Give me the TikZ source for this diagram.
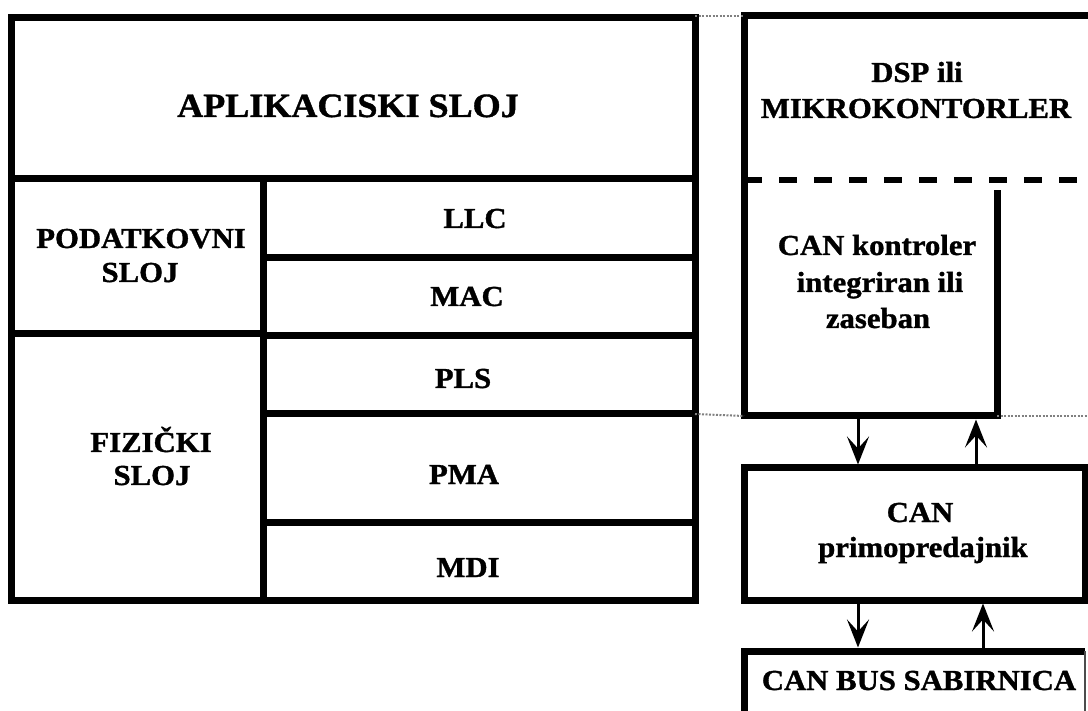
\documentclass[tikz,border=0pt]{standalone}
\usepackage{fontspec}
\setmainfont{Liberation Serif}[FakeStretch=1.06, BoldFeatures={FakeBold=1.2}]
\usetikzlibrary{arrows.meta}
\begin{document}
\begin{tikzpicture}[x=1pt,y=-1pt,
  box/.style={draw, line width=7pt, rectangle, inner sep=0pt, outer sep=0pt},
  area/.style={rectangle, inner sep=0pt, outer sep=0pt},
  thickline/.style={line width=7pt},
  lbl/.style={anchor=base, inner sep=0pt, font=\bfseries\fontsize{29}{34}\selectfont},
  biglbl/.style={anchor=base, inner sep=0pt, font=\bfseries\fontsize{34}{40}\selectfont},
  arr/.style={line width=3pt, shorten <=3.5pt, shorten >=3.5pt,
    -{Stealth[length=28pt,width=22pt,inset=12pt]}},
  dots/.style={black!50, line width=2pt, dash pattern=on 2pt off 1.5pt},
  dashline/.style={line width=6.5pt, dash pattern=on 18pt off 17pt}]
\useasboundingbox (0,0) rectangle (1088,711);
\clip (0,0) rectangle (1088,711);

% left stack
\node[box, minimum width=684pt, minimum height=161pt] (app) at (353,98.5) {};
\node[box, minimum width=252pt, minimum height=155pt] (pod) at (137,256.5) {};
\node[box, minimum width=252pt, minimum height=266pt] (fiz) at (137,467) {};
\node[box, minimum width=432pt, minimum height=79pt] (llc) at (479,218.5) {};
\node[box, minimum width=432pt, minimum height=78pt] (mac) at (479,297) {};
\node[box, minimum width=432pt, minimum height=78pt] (pls) at (479,375) {};
\node[box, minimum width=432pt, minimum height=108pt] (pma) at (479,468) {};
\node[box, minimum width=432pt, minimum height=78pt] (mdi) at (479,561) {};

% right column areas
\node[area, minimum width=356pt, minimum height=164pt] (dsp) at (922,98) {};
\node[area, minimum width=253pt, minimum height=236pt] (ctl) at (870.5,298) {};
\node[box, minimum width=341pt, minimum height=132pt] (trx) at (914.5,534) {};
\node[area, minimum width=341pt, minimum height=79pt] (bus) at (914.5,690.5) {};

\draw[thickline] (dsp.north east) -- (dsp.north west) -- (ctl.south west) -- (ctl.south east) -- (ctl.north east |- 0,190);
\draw[dashline] (dsp.south west) -- (dsp.south east);
\draw[thickline] (bus.south west) -- (bus.north west) -- (bus.north east);
\draw[line width=1.2pt, black!70] (bus.north east) -- (bus.south east);

% dotted guide lines
\draw[dots] (app.north east |- dsp.north) -- (dsp.north west);
\draw[dots] (pls.south east) -- (ctl.south west);
\draw[dots] (ctl.south east) -- (1088,416);

% arrows
\coordinate (d1) at (858,0);
\coordinate (u1) at (976,0);
\coordinate (d2) at (858,0);
\coordinate (u2) at (983,0);
\draw[arr] (ctl.south -| d1) -- (trx.north -| d1);
\draw[arr] (trx.north -| u1) -- (ctl.south -| u1);
\draw[arr] (trx.south -| d2) -- (bus.north -| d2);
\draw[arr] (bus.north -| u2) -- (trx.south -| u2);

% labels
\node[biglbl] (tapp) at (348,117) {APLIKACISKI SLOJ};
\node[lbl] (tpod1) at (141,248) {PODATKOVNI};
\node[lbl] (tpod2) at (140,282) {SLOJ};
\node[lbl] (tfiz1) at (151,452) {FIZIČKI};
\node[lbl] (tfiz2) at (152,485) {SLOJ};
\node[lbl] (tllc) at (475,228) {LLC};
\node[lbl] (tmac) at (467,306) {MAC};
\node[lbl] (tpls) at (463,388) {PLS};
\node[lbl] (tpma) at (464,484) {PMA};
\node[lbl] (tmdi) at (468,577) {MDI};
\node[lbl] (tdsp1) at (917,82) {DSP ili};
\node[lbl] (tdsp2) at (916,118) {MIKROKONTORLER};
\node[lbl] (tctl1) at (877,255) {CAN kontroler};
\node[lbl] (tctl2) at (880,292) {integriran ili};
\node[lbl] (tctl3) at (878,328) {zaseban};
\node[lbl] (ttrx1) at (920,522) {CAN};
\node[lbl] (ttrx2) at (923,557) {primopredajnik};
\node[lbl] (tbus) at (919,690) {CAN BUS SABIRNICA};
\end{tikzpicture}
\end{document}
